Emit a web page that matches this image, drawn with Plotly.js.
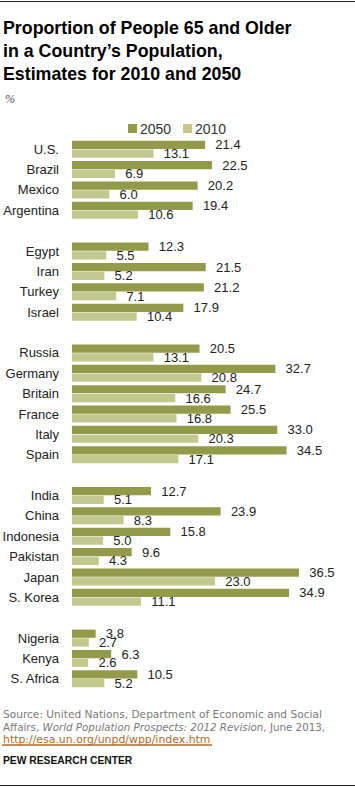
<!DOCTYPE html>
<html><head><meta charset="utf-8">
<script src="https://cdn.plot.ly/plotly-3.0.1.min.js"></script>
<style>html,body{margin:0;padding:0;background:#fff;}</style>
</head><body><div id="chart" style="width:355px;height:787px;"></div>
<script>
// ---- data ----
const countries = ["U.S.","Brazil","Mexico","Argentina",
  "Egypt","Iran","Turkey","Israel",
  "Russia","Germany","Britain","France","Italy","Spain",
  "India","China","Indonesia","Pakistan","Japan","S. Korea",
  "Nigeria","Kenya","S. Africa"];
const groupSizes = [4,4,6,6,3];
const values2050 = [21.4,22.5,20.2,19.4, 12.3,21.5,21.2,17.9, 20.5,32.7,24.7,25.5,33.0,34.5, 12.7,23.9,15.8,9.6,36.5,34.9, 3.8,6.3,10.5];
const values2010 = [13.1,6.9,6.0,10.6, 5.5,5.2,7.1,10.4, 13.1,20.8,16.6,16.8,20.3,17.1, 5.1,8.3,5.0,4.3,23.0,11.1, 2.7,2.6,5.2];
const seriesNames = ["2050","2010"];

// ---- layout helpers ----
const colors = ["#939b4b","#c3c88e"];
const pos = [];
let row = 0;
groupSizes.forEach((n)=>{ for(let i=0;i<n;i++){pos.push(row); row++;} row++; });
const lastRow = pos[pos.length-1];

const W=355, H=787, L=72, R=0, T=139, B=98;
const pw = W-L-R, ph = H-T-B;
const px = x => (x-L)/pw;
const py = y => 1-(y-T)/ph;
const pxPerUnit = 6.22;

const lbl = v => '\u00a0\u00a0' + v.toFixed(1);
const txtFont = {family:'Liberation Sans, Arial, sans-serif', size:13, color:'#222'};

const traces = [values2050, values2010].map((vals,k)=>({
  type:'bar', orientation:'h', y:pos, x:vals, name:seriesNames[k],
  marker:{color:colors[k], line:{width:0}},
  text: vals.map(lbl), textposition:'outside', textfont:txtFont,
  constraintext:'none', cliponaxis:false, hoverinfo:'skip'
}));

const srcFam = 'DejaVu Sans, Verdana, sans-serif';
const srcGray = '#7a7a7a';
const linkColor = '#b06a2c';

const layout = {
  width:W, height:H, margin:{l:L,r:R,t:T,b:B},
  paper_bgcolor:'#fff', plot_bgcolor:'#fff',
  barmode:'group', bargap:0.14, bargroupgap:0.06,
  showlegend:false,
  title:{text:'Proportion of People 65 and Older<br>in a Country\u2019s Population,<br>Estimates for 2010 and 2050',
    x:3/W, xref:'container', xanchor:'left', y:1-34/H, yref:'container', yanchor:'top',
    font:{family:'Liberation Sans, Arial, sans-serif', size:17.8, weight:700, color:'#000'}},
  xaxis:{range:[0, pw/pxPerUnit], visible:false, fixedrange:true},
  yaxis:{range:[lastRow+0.5,-0.5], tickvals:pos, ticktext:countries, showgrid:false, zeroline:false,
    showline:false, ticks:'', ticklabelstandoff:12, tickfont:txtFont, fixedrange:true},
  shapes:[
    {type:'line', xref:'paper', yref:'paper', x0:px(0), x1:px(355), y0:py(1.5), y1:py(1.5), line:{color:'#222', width:1}},
    {type:'line', xref:'paper', yref:'paper', x0:px(0), x1:px(355), y0:py(785.5), y1:py(785.5), line:{color:'#222', width:1}},
    {type:'rect', xref:'paper', yref:'paper', x0:px(128), x1:px(137), y0:py(124), y1:py(133), fillcolor:colors[0], line:{width:0}},
    {type:'rect', xref:'paper', yref:'paper', x0:px(183), x1:px(192), y0:py(124), y1:py(133), fillcolor:colors[1], line:{width:0}},
    {type:'line', xref:'paper', yref:'paper', x0:px(2), x1:px(212), y0:py(745), y1:py(745), line:{color:linkColor, width:1.5}}
  ],
  annotations:[
    {text:'<i>%</i>', xref:'paper', yref:'paper', x:px(3), y:py(99), xanchor:'left', yanchor:'middle', showarrow:false,
      font:{family:'Liberation Serif, serif', size:12, color:'#555'}},
    {text:seriesNames[0], xref:'paper', yref:'paper', x:px(138), y:py(128.5), xanchor:'left', yanchor:'middle', showarrow:false,
      font:{family:'Liberation Sans, Arial, sans-serif', size:14, color:'#333'}},
    {text:seriesNames[1], xref:'paper', yref:'paper', x:px(193), y:py(128.5), xanchor:'left', yanchor:'middle', showarrow:false,
      font:{family:'Liberation Sans, Arial, sans-serif', size:14, color:'#333'}},
    {text:'Source: United Nations, Department of Economic and Social', xref:'paper', yref:'paper', x:px(1), y:py(714), xanchor:'left', yanchor:'middle', showarrow:false,
      font:{family:srcFam, size:10.6, color:srcGray}},
    {text:'Affairs, <i>World Population Prospects: 2012 Revision</i>, June 2013,', xref:'paper', yref:'paper', x:px(1), y:py(727), xanchor:'left', yanchor:'middle', showarrow:false,
      font:{family:srcFam, size:10.3, color:srcGray}},
    {text:'http://esa.un.org/unpd/wpp/index.htm', xref:'paper', yref:'paper', x:px(1), y:py(739.5), xanchor:'left', yanchor:'middle', showarrow:false,
      font:{family:srcFam, size:10.9, color:linkColor}},
    {text:'<b>PEW RESEARCH CENTER</b>', xref:'paper', yref:'paper', x:px(1), y:py(760.5), xanchor:'left', yanchor:'middle', showarrow:false,
      font:{family:'Liberation Sans, Arial, sans-serif', size:10.3, color:'#111'}}
  ]
};

Plotly.newPlot('chart', traces, layout, {displayModeBar:false, staticPlot:true});
</script>
</body></html>
